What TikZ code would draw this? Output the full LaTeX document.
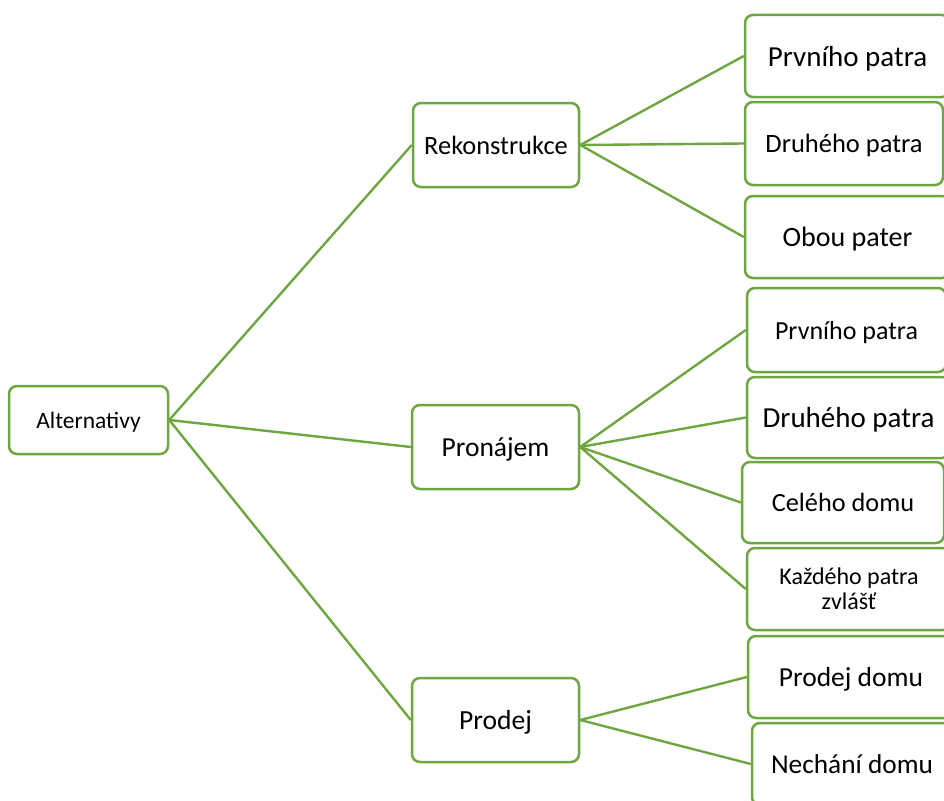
\documentclass[tikz,border=0pt]{standalone}
\usepackage{fontspec}
\setmainfont{Carlito}
\definecolor{lgreen}{RGB}{110,166,66}
\tikzset{
  box/.style={draw=lgreen, line width=2.5pt, rounded corners=8pt, fill=white, align=center, inner sep=0pt, text=black, text depth=0pt},
  conn/.style={draw=lgreen, line width=2.4pt},
  fs/.style={font=\fontsize{#1}{#1}\selectfont},
}
\begin{document}
\begin{tikzpicture}[x=1pt,y=-1pt]
\useasboundingbox (0,0) rectangle (944,800);
\clip (0,0) rectangle (944,800);
\fill[white] (0,0) rectangle (944,800);
\path
  node[box, fs=23.5, minimum width=159, minimum height=68] (alt) at (88.5,420) {Alternativy}
  node[box, fs=26.4, minimum width=166, minimum height=84] (rek) at (496,145) {Rekonstrukce}
  node[box, fs=27.5, minimum width=167, minimum height=84] (pro) at (495.5,447) {Pronájem}
  node[box, fs=27.6, minimum width=167, minimum height=84] (prd) at (495.5,720) {Prodej}
  node[box, fs=29, minimum width=205, minimum height=82] (r1) at (847.5,56) {Prvního patra}
  node[box, fs=26.5, minimum width=198, minimum height=83] (r2) at (844,143.5) {Druhého patra}
  node[box, fs=28, minimum width=205, minimum height=82] (r3) at (847.5,237) {Obou pater}
  node[box, fs=26, minimum width=199, minimum height=84] (p1) at (846.5,330) {Prvního patra}
  node[box, fs=29, minimum width=203, minimum height=81] (p2) at (848.5,417.5) {Druhého patra}
  node[box, fs=26.3, minimum width=202, minimum height=81] (p3) at (843,502.5) {Celého domu}
  node[box, font=\fontsize{24}{25}\selectfont, minimum width=204, minimum height=82] (p4) at (849,589) {Každého patra\\zvlášť}
  node[box, fs=27.5, minimum width=206, minimum height=82] (s1) at (851,677) {Prodej domu}
  node[box, fs=27.3, minimum width=200, minimum height=82] (s2) at (852,764) {Nechání domu};
\path[conn] (alt.east) -- (rek.west);
\path[conn] (alt.east) -- (pro.west);
\path[conn] (alt.east) -- (prd.west);
\path[conn] (rek.east) -- (r1.west);
\path[conn] (rek.east) -- (r2.west);
\path[conn] (rek.east) -- (r3.west);
\path[conn] (pro.east) -- (p1.west);
\path[conn] (pro.east) -- (p2.west);
\path[conn] (pro.east) -- (p3.west);
\path[conn] (pro.east) -- (p4.west);
\path[conn] (prd.east) -- (s1.west);
\path[conn] (prd.east) -- (s2.west);
\end{tikzpicture}
\end{document}
